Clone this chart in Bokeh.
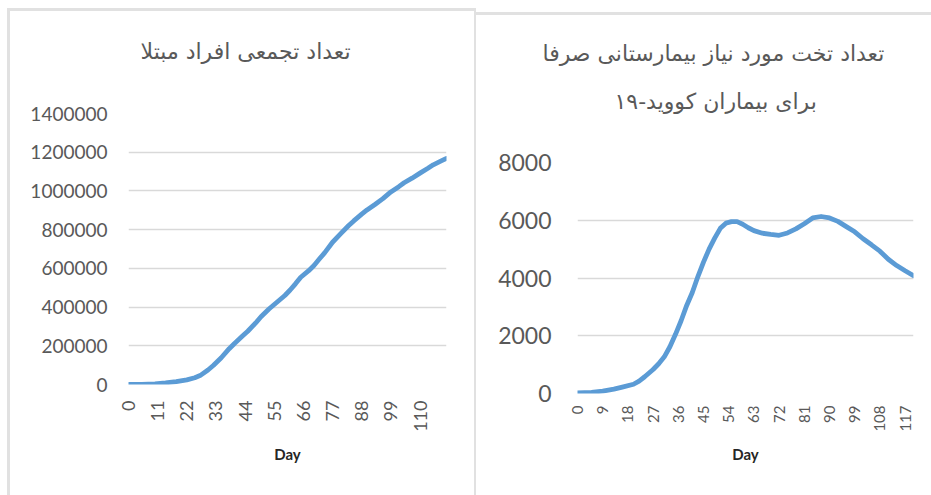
import math

from bokeh.embed import file_html
from bokeh.layouts import column, row
from bokeh.models import BasicTickFormatter, FixedTicker, Range1d, Title
from bokeh.plotting import figure
from bokeh.resources import INLINE

# ---- cumulative infected (left panel) ----
cases_title = "تعداد تجمعی افراد مبتلا"
cases_days = [0, 5, 10, 14, 18, 22, 25, 27, 30, 32, 35, 38, 40, 43, 45, 48, 50,
              53, 56, 59, 61, 63, 65, 68, 70, 72, 74, 77, 80, 83, 85, 88, 90, 93,
              96, 99, 102, 104, 107, 110, 113, 115, 118, 120]
cases_values = [0, 1000, 3000, 8000, 15000, 24000, 35000, 46000, 75000, 98000,
                138000, 185000, 212000, 250000, 275000, 318000, 350000, 390000,
                425000, 460000, 488000, 520000, 554000, 588000, 615000, 648000,
                680000, 735000, 778000, 820000, 845000, 880000, 902000, 930000,
                960000, 995000, 1022000, 1042000, 1066000, 1092000, 1117000,
                1135000, 1155000, 1168000]
cases_x_ticks = [0, 11, 22, 33, 44, 55, 66, 77, 88, 99, 110]
cases_y_ticks = [0, 200000, 400000, 600000, 800000, 1000000, 1200000, 1400000]

# ---- hospital beds needed (right panel) ----
beds_title_1 = "تعداد تخت مورد نیاز بیمارستانی صرفا"
beds_title_2 = "برای بیماران کووید-۱۹"
beds_days = [0, 5, 9, 13, 16, 20, 22, 24, 27, 29, 31, 33, 35, 37, 39, 41, 43, 45,
             47, 49, 51, 53, 55, 57, 59, 61, 63, 66, 69, 72, 75, 78, 81, 84, 87,
             90, 93, 96, 99, 102, 105, 108, 111, 114, 117, 120]
beds_values = [20, 40, 80, 150, 220, 320, 430, 580, 830, 1030, 1270, 1620, 2050,
               2520, 3050, 3500, 4050, 4550, 5000, 5380, 5720, 5900, 5950, 5950,
               5860, 5740, 5640, 5550, 5510, 5480, 5560, 5700, 5880, 6080, 6130,
               6080, 5960, 5780, 5600, 5360, 5150, 4930, 4650, 4430, 4250, 4080]
beds_x_ticks = [0, 9, 18, 27, 36, 45, 54, 63, 72, 81, 90, 99, 108, 117]
beds_y_ticks = [0, 2000, 4000, 6000, 8000]

x_label = "Day"

LINE = "#5B9BD5"
GRID = "#d9d9d9"
TEXT = "#595959"
PANEL = "#e1e1e1"
NUM_FONT = "Lato"
AR_FONT = "DejaVu Sans"


def panel(width, frame, y_max, x_ticks, y_ticks, ytick_size, xtick_size,
          ytick_standoff, xtick_standoff, xlabel_standoff, panel_css):
    left, right, top, bottom = frame
    p = figure(width=width, height=495, output_backend="svg", toolbar_location=None,
               x_range=Range1d(0, 120), y_range=Range1d(0, y_max),
               min_border_left=left, min_border_right=width - right,
               min_border_top=top, min_border_bottom=495 - bottom,
               border_fill_color=None, background_fill_color="white",
               outline_line_color=None)
    p.styles = {"background": panel_css}
    p.title.visible = False

    p.xgrid.grid_line_color = None
    p.ygrid.grid_line_color = GRID
    p.ygrid.grid_line_width = 1.5

    for ax in (p.xaxis[0], p.yaxis[0]):
        ax.axis_line_color = None
        ax.major_tick_line_color = None
        ax.minor_tick_line_color = None
        ax.major_tick_in = 0
        ax.major_tick_out = 0
        ax.major_label_text_color = TEXT
        ax.major_label_text_font = NUM_FONT

    p.yaxis.ticker = FixedTicker(ticks=y_ticks)
    p.yaxis.formatter = BasicTickFormatter(use_scientific=False)
    p.yaxis.major_label_text_font_size = f"{ytick_size}px"
    p.yaxis.major_label_standoff = ytick_standoff

    p.xaxis.ticker = FixedTicker(ticks=x_ticks)
    p.xaxis.major_label_orientation = math.pi / 2
    p.xaxis.major_label_text_font_size = f"{xtick_size}px"
    p.xaxis.major_label_standoff = xtick_standoff
    p.xaxis.axis_label = x_label
    p.xaxis.axis_label_text_font = NUM_FONT
    p.xaxis.axis_label_text_font_size = "15px"
    p.xaxis.axis_label_text_font_style = "bold"
    p.xaxis.axis_label_text_color = "#262626"
    p.xaxis.axis_label_standoff = xlabel_standoff
    return p


def gap(p, standoff):
    # blank spacer between the plot frame and the title lines
    p.add_layout(Title(text=" ", text_font_size="1px", text_color="white",
                       standoff=standoff), "above")


def title(p, text, offset, standoff):
    p.add_layout(Title(text=text, align="left", offset=offset, text_font=AR_FONT,
                       text_font_size="22px", text_font_style="normal",
                       text_color=TEXT, standoff=standoff), "above")


def borders(*lines):
    return ", ".join(
        f"linear-gradient({PANEL}, {PANEL}) {x}px {y}px / {w}px {h}px no-repeat"
        for x, y, w, h in lines)


# left panel: plot frame spans x 128..446, y 113..384 of the page
p1 = panel(476, (128, 446, 113, 384), 1400000, cases_x_ticks, cases_y_ticks,
           19, 18, 21, 16, 10,
           borders((7, 8, 3, 487), (7, 8, 470, 3), (474, 8, 3, 487)))
p1.line(cases_days, cases_values, line_color=LINE, line_width=4.8,
        line_join="round", line_cap="round")
gap(p1, 46)
title(p1, cases_title, 12, 2)

# right panel: plot frame spans x 577..913, y 162..393 of the page
p2 = panel(455, (101, 437, 162, 393), 8000, beds_x_ticks, beds_y_ticks,
           23, 15, 26, 12, 10,
           borders((0, 12, 455, 3)))
p2.line(beds_days, beds_values, line_color=LINE, line_width=4.8,
        line_join="round", line_cap="round")
gap(p2, 45)
title(p2, beds_title_2, 37, 2)
title(p2, beds_title_1, -35, 39)

layout = row(column(p1), column(p2))
open("out.html", "w").write(file_html(layout, INLINE))
